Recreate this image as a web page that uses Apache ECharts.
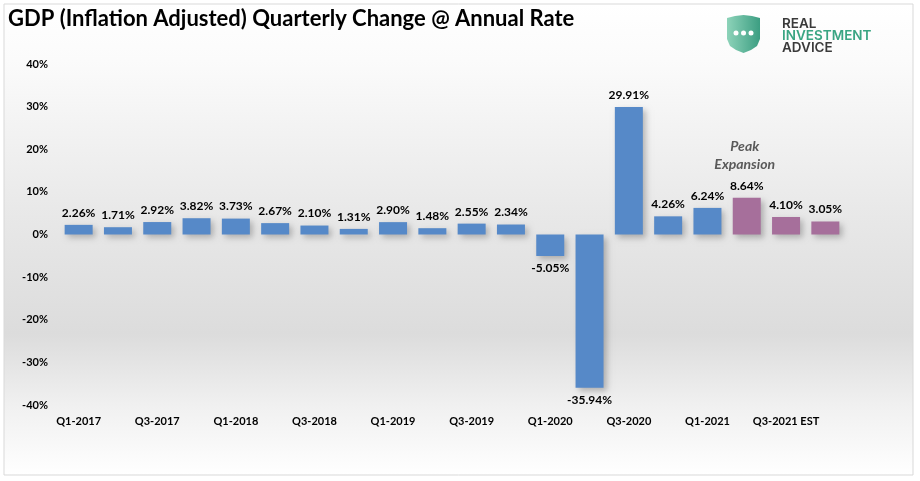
<!DOCTYPE html>
<html><head><meta charset="utf-8">
<script src="https://cdn.jsdelivr.net/npm/echarts@6/dist/echarts.min.js"></script>
<style>html,body{margin:0;padding:0;background:#fff}#c{width:920px;height:481px}</style>
</head><body><div id="c"></div>
<script>
var categories = ['Q1-2017','Q2-2017','Q3-2017','Q4-2017','Q1-2018','Q2-2018','Q3-2018','Q4-2018','Q1-2019','Q2-2019','Q3-2019','Q4-2019','Q1-2020','Q2-2020','Q3-2020','Q4-2020','Q1-2021','Q2-2021','Q3-2021 EST','Q4-2021 EST'];
var values = [2.26,1.71,2.92,3.82,3.73,2.67,2.10,1.31,2.90,1.48,2.55,2.34,-5.05,-35.94,29.91,4.26,6.24,8.64,4.10,3.05];
var estimated = [false,false,false,false,false,false,false,false,false,false,false,false,false,false,false,false,false,true,true,true];
var yTicks = {min:-40, max:40, interval:10};
var titleText = 'GDP (Inflation Adjusted) Quarterly Change @ Annual Rate';
var annotation = 'Peak\nExpansion';

var BLUE = '#5689C8', PURPLE = '#A66F9B';
var font = 'Lato, "Open Sans", sans-serif';
var chart = echarts.init(document.getElementById('c'));
var data = values.map(function(v,i){
  return {value:v, itemStyle:{color: estimated[i]?PURPLE:BLUE},
    label:{position: v<0?'bottom':'top'}};
});
var logoFont = '600 13.5px Inter, sans-serif';
chart.setOption({
  animation:false,
  backgroundColor:'#fff',
  graphic:[
    {id:'bg', type:'rect', z:-10, shape:{x:4,y:4,width:909,height:471},
     style:{fill:new echarts.graphic.LinearGradient(0,0,0,1,[
       {offset:0,color:'#ffffff'},{offset:0.12,color:'#fbfbfb'},{offset:0.45,color:'#e8e8e8'},
       {offset:0.7,color:'#dcdcdc'},{offset:0.85,color:'#f0f0f0'},{offset:1,color:'#ffffff'}]),
       stroke:'#d9d9d9', lineWidth:1}},
    {id:'title', type:'text', x:8, y:8, style:{text:titleText, font:'bold 22px '+font, fill:'#000'}},
    {id:'logo', type:'group', x:727, y:15, children:[
      {type:'polygon', shape:{points:[[0,3],[8,1],[16.5,0],[25,1],[33,3],[33,24],[30,31],[24,35],[16.5,38],[9,35],[3,31],[0,24]]},
       style:{fill:new echarts.graphic.LinearGradient(0,0,1,0,[{offset:0,color:'#8dd3b9'},{offset:1,color:'#3c9e82'}])}},
      {type:'circle', shape:{cx:9,cy:18,r:2.5}, style:{fill:'#fff'}},
      {type:'circle', shape:{cx:16.5,cy:18,r:2.5}, style:{fill:'#fff'}},
      {type:'circle', shape:{cx:24,cy:18,r:2.5}, style:{fill:'#fff'}},
      {type:'text', x:55, y:9, style:{text:'REAL', font:logoFont, fill:'#3a3a3a', verticalAlign:'middle'}},
      {type:'text', x:55, y:21, style:{text:'INVESTMENT', font:logoFont, fill:'#3aa583', verticalAlign:'middle'}},
      {type:'text', x:55, y:33, style:{text:'ADVICE', font:logoFont, fill:'#3a3a3a', verticalAlign:'middle'}}
    ]}
  ],
  grid:{left:59, right:75, top:64, bottom:76, containLabel:false},
  xAxis:{type:'category', data:categories,
    axisLine:{show:false}, axisTick:{show:false},
    position:'bottom',
    axisLabel:{interval:1, margin:11, fontFamily:font, fontWeight:'bold', fontSize:11, color:'#000'}},
  yAxis:{type:'value', min:yTicks.min, max:yTicks.max, interval:yTicks.interval,
    splitLine:{show:false}, axisLine:{show:false}, axisTick:{show:false},
    axisLabel:{formatter:'{value}%', margin:11, fontFamily:font, fontWeight:'bold', fontSize:11, color:'#000'}},
  series:[{type:'bar', data:data, barWidth:28,
    itemStyle:{shadowBlur:6, shadowColor:'rgba(0,0,0,0.25)', shadowOffsetX:3, shadowOffsetY:3},
    label:{show:true, formatter:function(p){return p.value.toFixed(2)+'%';},
      fontFamily:font, fontWeight:'bold', fontSize:12, color:'#000', distance:6}}]
});
var idx = categories.indexOf('Q2-2021');
var pt = chart.convertToPixel({seriesIndex:0}, [idx, values[idx]]);
chart.setOption({graphic:[{id:'ann', type:'text', x:pt[0]-2, y:pt[1]-60,
  style:{text:annotation, font:'italic bold 14px '+font, fill:'#595959', align:'center', lineHeight:18}}]});
</script></body></html>
